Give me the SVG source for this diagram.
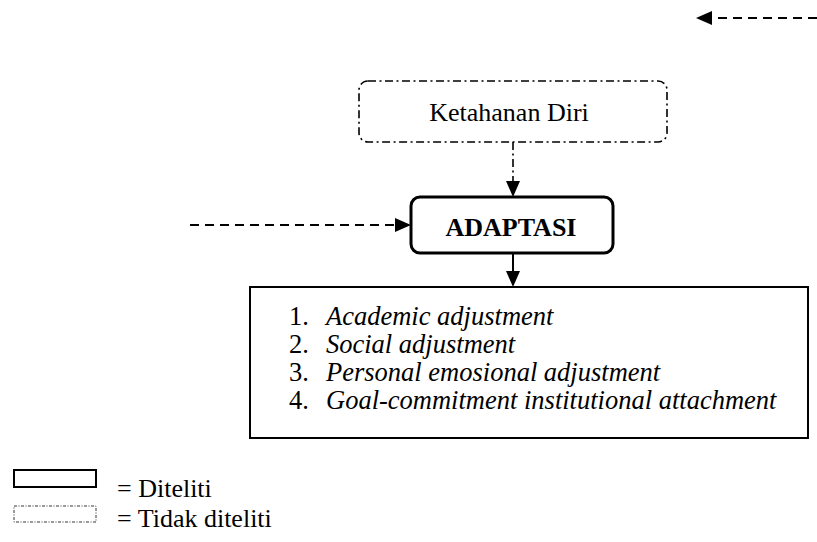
<svg xmlns="http://www.w3.org/2000/svg" width="817" height="542" viewBox="0 0 817 542">
<style>
text{font-family:"Liberation Serif","Times New Roman",serif;fill:#000}
.t{font-size:26px}
.l{font-size:26.5px}
.b{font-size:26px;font-weight:bold}
.i{font-style:italic}
.dd{fill:none;stroke:#000;stroke-width:1.6;stroke-dasharray:8 3.5 2 3.5}
.dash{fill:none;stroke:#000;stroke-width:2;stroke-dasharray:9 6}
.solid{fill:none;stroke:#000;stroke-width:2}
</style>
<g id="connectors">
<line class="dash" x1="817" y1="18" x2="713" y2="18"/>
<path d="M712,11 L696,18 L712,25 Z" fill="#000"/>
<line class="dash" x1="190" y1="225" x2="396" y2="225"/>
<path d="M395,218 L411,225 L395,232 Z" fill="#000"/>
<line class="dd" x1="513" y1="142" x2="513" y2="182"/>
<path d="M506,181 L513,197 L520,181 Z" fill="#000"/>
<line class="solid" x1="513" y1="254" x2="513" y2="272"/>
<path d="M506,271 L513,287 L520,271 Z" fill="#000"/>
</g>
<g id="node-ketahanan">
<rect class="dd" x="359" y="81" width="308" height="61" rx="9"/>
<text class="t" x="509" y="121" text-anchor="middle">Ketahanan Diri</text>
</g>
<g id="node-adaptasi">
<rect x="411" y="197" width="202" height="56" rx="9" fill="#fff" stroke="#000" stroke-width="3"/>
<text class="b" x="511" y="236" text-anchor="middle">ADAPTASI</text>
</g>
<g id="node-list">
<rect class="solid" x="250" y="287" width="558" height="151"/>
<text class="l" x="289" y="325">1.</text>
<text class="l i" x="326" y="325">Academic adjustment</text>
<text class="l" x="289" y="353">2.</text>
<text class="l i" x="326" y="353">Social adjustment</text>
<text class="l" x="289" y="381">3.</text>
<text class="l i" x="326" y="381">Personal emosional adjustment</text>
<text class="l" x="289" y="409">4.</text>
<text class="l i" x="326" y="409">Goal-commitment institutional attachment</text>
</g>
<g id="legend">
<rect x="14" y="470" width="82" height="17" fill="none" stroke="#000" stroke-width="2"/>
<text class="t" x="117" y="497">= Diteliti</text>
<rect x="14" y="506" width="82" height="16" fill="none" stroke="#000" stroke-width="0.8" stroke-dasharray="3 1.5 1 1.5"/>
<text class="t" x="117" y="527">= Tidak diteliti</text>
</g>
</svg>
